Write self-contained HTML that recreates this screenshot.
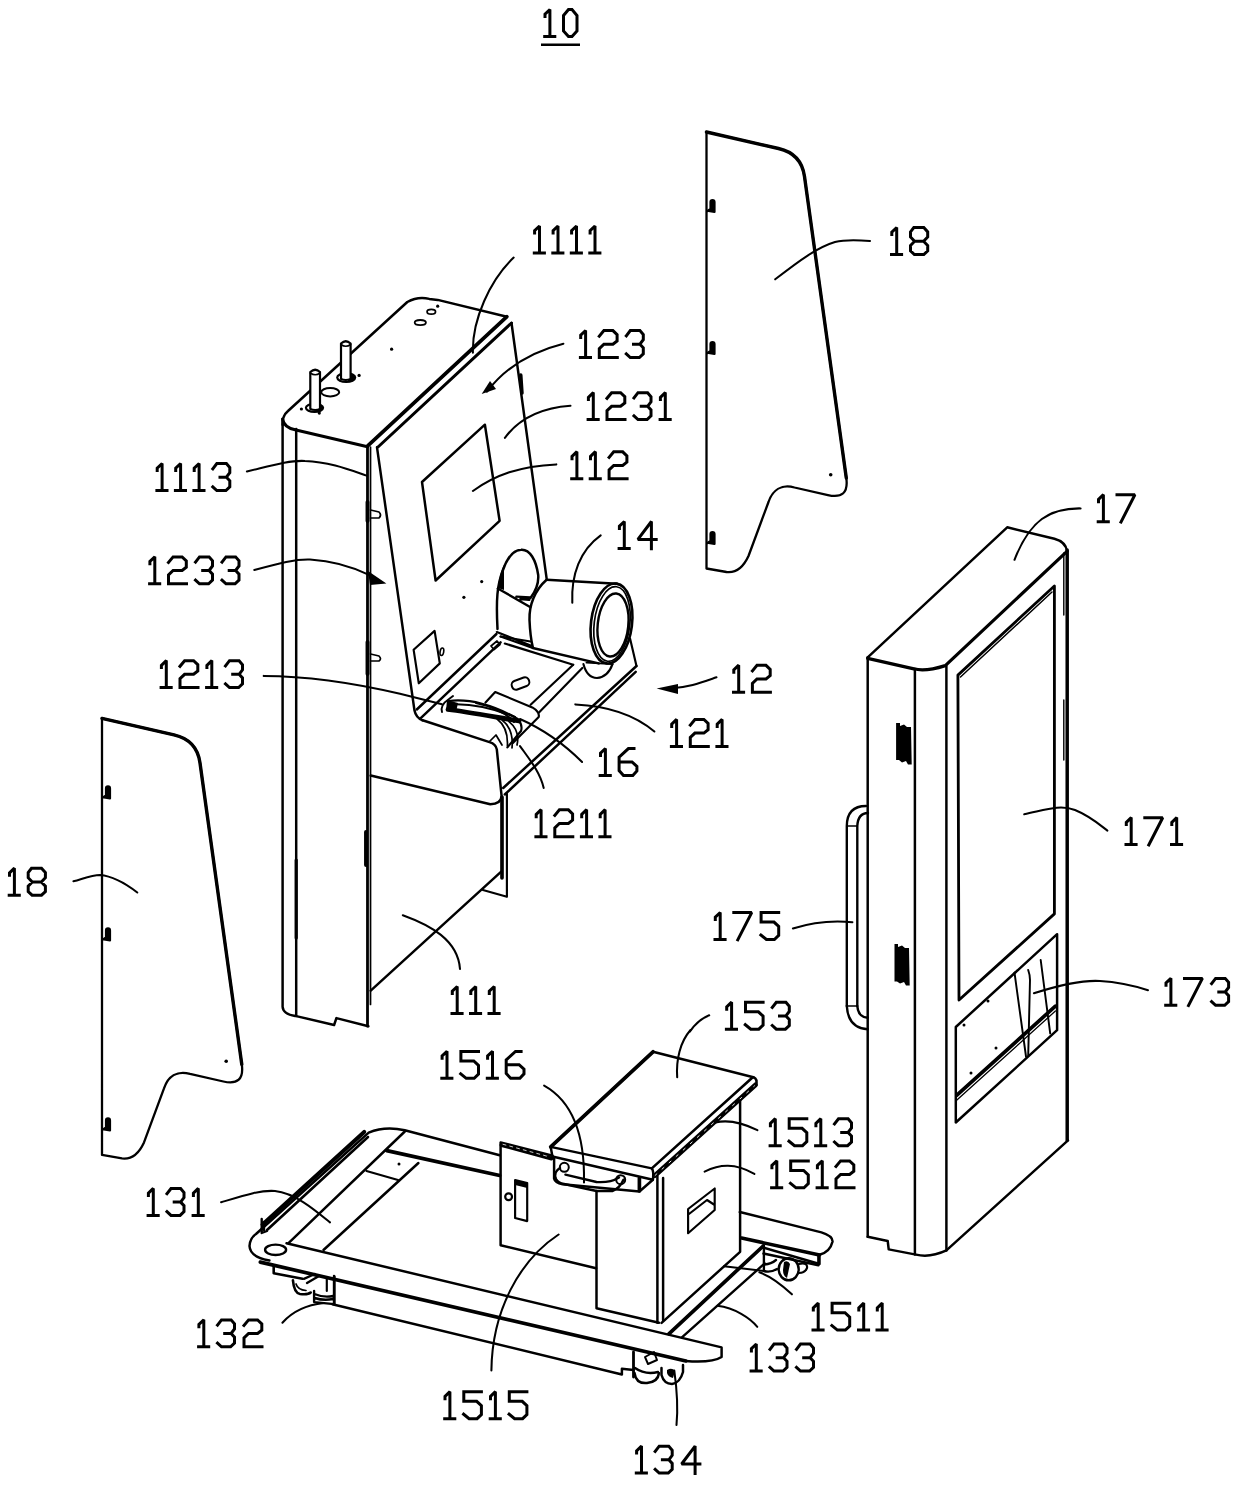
<!DOCTYPE html>
<html><head><meta charset="utf-8"><style>
html,body{margin:0;padding:0;background:#fff;}
svg{display:block;}
</style></head><body>
<svg width="1240" height="1485" viewBox="0 0 1240 1485">
<rect width="1240" height="1485" fill="#fff"/>
<g fill="none" stroke="#000" stroke-linecap="round" stroke-linejoin="round">
<g transform="translate(102,718.4)"><path d="M0,0 L72,16.5 Q94.9,21.7 98,44.5 L139.8,346 Q142.85,367.9 121.4,363.1 L88,355.5 C75,352 66,358 62,370 L42,424 C36,437 28,441 20,440 L0,436.5 Z" stroke-width="2.3"/><path d="M0,0 L72,16.5 Q94.9,21.7 98,44.5 L139.8,346" stroke-width="3.4"/><path d="M1,79 L4,77 V70 Q4,68 6,68 Q8,68 8,70 V80 L2,79" stroke-width="2.2" fill="#000"/><path d="M1,221 L4,219 V212 Q4,210 6,210 Q8,210 8,212 V222 L2,221" stroke-width="2.2" fill="#000"/><path d="M1,411 L4,409 V402 Q4,400 6,400 Q8,400 8,402 V412 L2,411" stroke-width="2.2" fill="#000"/><circle cx="124.2" cy="342.8" r="1.8" fill="#000" stroke="none"/></g>
<g transform="translate(706.5,132)"><path d="M0,0 L72,16.5 Q94.9,21.7 98,44.5 L139.8,346 Q142.85,367.9 121.4,363.1 L88,355.5 C75,352 66,358 62,370 L42,424 C36,437 28,441 20,440 L0,436.5 Z" stroke-width="2.3"/><path d="M0,0 L72,16.5 Q94.9,21.7 98,44.5 L139.8,346" stroke-width="3.4"/><path d="M1,79 L4,77 V70 Q4,68 6,68 Q8,68 8,70 V80 L2,79" stroke-width="2.2" fill="#000"/><path d="M1,221 L4,219 V212 Q4,210 6,210 Q8,210 8,212 V222 L2,221" stroke-width="2.2" fill="#000"/><path d="M1,411 L4,409 V402 Q4,400 6,400 Q8,400 8,402 V412 L2,411" stroke-width="2.2" fill="#000"/><circle cx="124.2" cy="342.8" r="1.8" fill="#000" stroke="none"/></g>
<path d="M282.6,425 Q282,416 288,411 L407.3,302 Q418,296 429.3,298.9 L437.7,299.9 L506.9,316.7" stroke-width="2.48" />
<path d="M282.6,419 Q284,428 296,430 L367.5,446.7" stroke-width="3.02" />
<path d="M367.7,445.8 L506.9,316.7" stroke-width="3.67" />
<path d="M378,447 L511.5,323" stroke-width="3.02" />
<path d="M282.6,419 V1006.7 Q283,1014 295.2,1015.9" stroke-width="2.48" />
<path d="M296.2,429 V1015.9" stroke-width="2.48" />
<path d="M367.5,446.7 V1026.2" stroke-width="2.81" />
<path d="M370.5,447 V1004.4" stroke-width="1.73" />
<path d="M295.2,1015.9 L334.1,1025 L336.4,1018.1 L368.4,1026.2" stroke-width="2.48" />
<path d="M367.5,502 V521 M367.5,642 V674 M366,832 V865" stroke-width="3.89" />
<path d="M296.2,860 V938" stroke-width="3.24" />
<path d="M370.6,510 L379,512 Q382,515 379,518 L370.6,518" stroke-width="1.73" />
<path d="M370.6,654 L379,656 Q382,659 379,661 L370.6,661" stroke-width="1.73" />
<path d="M377,447.3 L414.5,710.6 Q416,718 422.6,720.3" stroke-width="2.48" />
<path d="M511.5,323 L546.6,578.3" stroke-width="2.48" />
<path d="M520.8,375 L522,393" stroke-width="3.46" />
<path d="M484.9,424.7 L422,482 L435.6,580.5 L499.6,520.8 Z" stroke-width="2.48" />
<path d="M413.6,649.7 L434.6,630.9 L439.8,663.4 L418.8,683.3 Z" stroke-width="2.16" />
<ellipse cx="441.9" cy="651.8" rx="1.8" ry="3.8" stroke-width="1.6" transform="rotate(10 441.9 651.8)"/>
<circle cx="463.9" cy="597.3" r="1.6" fill="#000" stroke="none"/>
<circle cx="481.7" cy="581.6" r="1.6" fill="#000" stroke="none"/>
<circle cx="391.6" cy="349.2" r="1.6" fill="#000" stroke="none"/>
<circle cx="437.7" cy="306.2" r="1.6" fill="#000" stroke="none"/>
<circle cx="359.1" cy="375.4" r="1.6" fill="#000" stroke="none"/>
<circle cx="301.4" cy="409" r="1.6" fill="#000" stroke="none"/>
<circle cx="319.3" cy="413.1" r="1.6" fill="#000" stroke="none"/>
<ellipse cx="330.2" cy="392.2" rx="9" ry="4.2" stroke-width="2"/>
<ellipse cx="420.3" cy="322.6" rx="5.6" ry="2.6" stroke-width="1.8"/>
<ellipse cx="431.3" cy="311.7" rx="4.2" ry="2.4" stroke-width="1.8"/>
<ellipse cx="314.5" cy="407.8" rx="8.6" ry="4" stroke-width="2.2"/>
<path d="M316,404 Q323,404.5 323,408 Q322.5,411 316,411.8 Z" fill="#000" stroke="none"/>
<path d="M310.3,409 V372 Q315.2,367.5 320,372 V409 Q315.2,411 310.3,409 Z" fill="#fff" stroke-width="2.2"/>
<path d="M310.3,373 Q315.2,376.5 320,373" stroke-width="1.62" />
<ellipse cx="346.2" cy="377.6" rx="9" ry="4.4" stroke-width="2.2"/>
<path d="M348,373.5 Q355,374 355.2,377.6 Q354.5,381 348,382 Z" fill="#000" stroke="none"/>
<path d="M341,379 V343.5 Q345.8,339 350.6,343.5 V379 Q345.8,381 341,379 Z" fill="#fff" stroke-width="2.2"/>
<path d="M341,344.5 Q345.8,348 350.6,344.5" stroke-width="1.62" />
<path d="M416.8,709.5 L496.4,634 M421,717.9 L500.6,642.4" stroke-width="2.48" />
<path d="M422.6,720.3 L489.5,742.1 Q496,744 496.8,749.4 L501.6,796.1 Q501,804 490.3,804.2 L370.7,775.5" stroke-width="2.48" />
<path d="M370.7,990.7 L501.2,871.7" stroke-width="2.48" />
<path d="M506.9,793.8 V896.8 L482.9,890" stroke-width="2.16" />
<path d="M502,797 V878" stroke-width="3.67" />
<path d="M503.2,788 L636.5,666 M504.8,794.5 L635.7,671.8" stroke-width="2.48" />
<path d="M630.1,638.7 L636.5,666" stroke-width="2.16" />
<path d="M573.2,664.8 L530.6,704.8 M582.3,668 L539,712.6" stroke-width="2.16" />
<path d="M504.8,643.5 L573.2,664.8" stroke-width="2.16" />
<path d="M500.6,636.5 L530.6,641.5" stroke-width="2.16" />
<path d="M586.5,662.6 L612.5,664.1" stroke-width="1.94" />
<rect x="511.5" y="679" width="18" height="9" rx="4" stroke-width="2" transform="rotate(-20 520.5 683.5)"/>
<path d="M491,646 L497,641 L500,644.5 L494,649.5 Z" stroke-width="1.73" />
<path d="M497.5,629 C496,600 497,585 503,570 C508,556 515,550 521,549.7 C530,549 536,560 538.2,575 C539,585 535,592 530.5,598" stroke-width="2.48" />
<path d="M498,588 C499,578 501,570 504,565 V590 Z" fill="#000" stroke="none"/>
<path d="M497.8,588.5 L530.1,607 M516.4,596.6 L530.1,597.4 M520.4,599 L529.3,599.8" stroke-width="2.38" />
<path d="M496.8,632 L531.3,645.7 M500.6,636.5 L532.8,648" stroke-width="2.16" />
<path d="M546.6,579.8 L617.1,583.7" stroke-width="2.48" />
<path d="M546.6,579.8 C535,590 529,605 529.5,620 C530,632 531,640 532.8,647.3" stroke-width="2.48" />
<path d="M532.8,648 L598.7,663.4" stroke-width="2.48" />
<ellipse cx="611.5" cy="623.5" rx="20.5" ry="40.2" stroke-width="2.6" transform="rotate(7 611.5 623.5)"/>
<ellipse cx="612" cy="624" rx="17.8" ry="37.5" stroke-width="1.7" transform="rotate(7 612 624)"/>
<ellipse cx="613" cy="625" rx="15.3" ry="31.7" stroke-width="2.4" transform="rotate(6 613 625)"/>
<path d="M583.4,664.1 Q587,678 597,678 Q608,677 612.5,664.1" stroke-width="2.16" />
<path d="M495.2,692.1 L485.5,702.6 M495.2,692.1 L532.3,707.4 Q540,712 538.7,717.1 L512.9,742.9" stroke-width="2.16" />
<path d="M448.7,701 C468.7,698.4 494.5,704.8 517.7,719 Q523,725 521,731 L507.4,747.4" stroke-width="2.16" />
<path d="M448,709.5 C468.7,712 494.5,717 519,721" stroke-width="4.75" />
<path d="M449,704.5 C470,703 495,709 515,717" stroke-width="2.16" />
<path d="M447,700 L458,703 L456,712 L446,711 Z" fill="#000" stroke="none"/>
<path d="M476,703 C490,706 505,712 514,722" stroke-width="2.16" />
<path d="M497.1,719 C505,725 508,735 507.4,746 M502.3,720.3 C512,728 513,738 512,748 M509,721.6 C517,728 519,736 517,745" stroke-width="1.73" />
<path d="M442,712 Q440,705 449,699 L453,696" stroke-width="1.94" />
<path d="M489,742 L496,735 L502,745" stroke-width="1.73" />
<path d="M867.7,657.3 L1007.2,527.3 L1054.4,538.8 Q1066,542 1067,551.4" stroke-width="2.48" />
<path d="M867.7,658.3 L913.9,668.8 Q925,672 945.3,665.6 L1067,551.4" stroke-width="3.24" />
<path d="M867.7,657.3 V1236.8" stroke-width="2.48" />
<path d="M914.9,669 V1254.6" stroke-width="2.48" />
<path d="M946.4,666 V1250.4" stroke-width="2.48" />
<path d="M1067.2,550 V1140.3" stroke-width="3.46" />
<path d="M1063.8,553 V615 M1063.8,700 V760" stroke-width="1.40" />
<path d="M867.7,1236.8 L887.7,1241 L888.7,1249.4 L916,1254.6 Q930,1258 946.4,1250.4 L1068,1140.3" stroke-width="2.48" />
<path d="M957.9,675.1 L1054.4,586 V913.9 L959,1000 Z" stroke-width="2.81" />
<path d="M960.5,677 L1052,592" stroke-width="1.51" />
<path d="M955.8,1027 L1057.1,934.2 V1030.2 L955.8,1122.5 Z" stroke-width="2.48" />
<path d="M956.9,1095.2 L1055.4,1006.1" stroke-width="3.67" />
<path d="M956.9,1100 L1055.4,1011" stroke-width="1.30" />
<path d="M1014.5,972.6 L1026,1056.5 M1028.2,970 Q1030,975 1030,980 L1028.2,1056 M1040.7,960 L1050.2,1033.4" stroke-width="1.94" />
<circle cx="988" cy="1001" r="1.5" fill="#000" stroke="none"/>
<circle cx="964" cy="1025" r="1.5" fill="#000" stroke="none"/>
<circle cx="996" cy="1048" r="1.5" fill="#000" stroke="none"/>
<circle cx="971" cy="1073" r="1.5" fill="#000" stroke="none"/>
<path d="M896.1,723 H900 V726 L904,724.5 L907,727 H911 L911.7,764.6 H908 L906,761 L902,762.5 L899,760 H896.1 Z" fill="#000" stroke="none"/>
<path d="M894.5,944 H898 V947 L902,945.5 L905,948 H909 L909.7,985.5 H906 L904,982 L900,983.5 L897,981.5 H894.5 Z" fill="#000" stroke="none"/>
<path d="M846.8,1006 V826 Q847,806 866,806" stroke-width="2.38" />
<path d="M857.3,1006 V826 Q858,813 868,813" stroke-width="2.38" />
<path d="M846.8,1006 Q848,1028 867.7,1029.2" stroke-width="2.38" />
<path d="M857.3,1006 Q858,1017 867.7,1017.7" stroke-width="2.38" />
<path d="M846.8,826 H857.3 M846.8,1006 H857.3" stroke-width="1.73" />
<path d="M269.4,1260.5 Q250,1257 249.5,1246 Q250,1238 256,1234 L368.7,1132.6 Q385,1126 404.8,1130.3 L499.7,1155.2" stroke-width="2.48" />
<path d="M286.5,1243.2 L721.6,1347.4 V1357 Q712,1363 685.8,1361" stroke-width="2.48" />
<path d="M260.3,1262.1 L685.8,1361" stroke-width="3.67" />
<path d="M332.4,1304.2 L621.9,1374.5 V1368.7 L633.5,1370" stroke-width="2.48" />
<path d="M334.4,1276.6 V1304.2" stroke-width="2.48" />
<path d="M288.5,1243.2 L404.8,1131.5" stroke-width="2.48" />
<path d="M323.5,1250 L418.4,1163" stroke-width="2.48" />
<path d="M386.8,1150.6 L499.7,1175.5" stroke-width="3.67" />
<path d="M366.5,1171 L398,1180" stroke-width="2.16" />
<circle cx="399" cy="1164" r="1.5" fill="#000" stroke="none"/>
<path d="M262.6,1224.5 L364.2,1132" stroke-width="4.10" />
<path d="M267,1230 L368,1137" stroke-width="2.59" />
<path d="M261.7,1219 V1233 L267,1231 M264,1222 V1230" stroke-width="2.38" />
<ellipse cx="275.6" cy="1249.8" rx="10.5" ry="5.2" stroke-width="2.4"/>
<path d="M273.7,1265.8 V1273.3 L302.5,1278.8" stroke-width="2.59" />
<path d="M292.9,1280.2 Q294,1293 300,1294 Q308,1295 310.7,1292.5" stroke-width="2.59" />
<path d="M296,1284 Q298,1290 306,1290.5" stroke-width="1.73" />
<path d="M303.9,1278.8 L314.8,1274 M307,1283 L319,1276" stroke-width="2.38" />
<path d="M314.1,1291 V1302.1 L334,1304.1 V1276 M314.5,1294 Q324,1298 333,1296 M314.5,1298 Q324,1301 333,1299" stroke-width="2.38" />
<path d="M326.8,1277 V1291" stroke-width="2.16" />
<path d="M739.8,1212 L821.4,1232.4 Q833,1236 832.5,1241.7 Q830,1252 819.5,1254.7 V1264 L762,1247.2" stroke-width="2.48" />
<path d="M741.6,1238 L819.5,1255" stroke-width="3.46" />
<path d="M668.9,1333.8 L763.2,1246" stroke-width="3.67" />
<path d="M681.9,1337.4 L764.7,1263.4" stroke-width="2.38" />
<path d="M724,1266.3 L764.7,1271" stroke-width="1.94" />
<path d="M763.5,1253.5 L818.4,1265.2 V1256" stroke-width="2.48" />
<path d="M763.9,1245.2 V1271 Q770,1273 777,1269 M764.8,1264.5 Q771,1264 776,1260" stroke-width="2.38" />
<ellipse cx="788.7" cy="1269.3" rx="10" ry="11" stroke-width="2.4"/>
<path d="M784,1262 Q788,1260 790,1264 L787,1278 Q783,1276 783,1270 Z" fill="#000" stroke="none"/>
<path d="M799,1264 Q808,1262 807,1268 Q805,1273 799,1273" stroke-width="2.16" />
<path d="M633.5,1352 V1377" stroke-width="2.81" />
<path d="M634.5,1373 Q636,1384 647,1383 Q658,1382 659,1373 M635,1368 Q645,1375 658,1372" stroke-width="2.48" />
<path d="M661.5,1368 V1375 Q664,1384 672,1384 Q680,1383 683,1372 V1365" stroke-width="2.48" />
<path d="M667,1370 Q672,1367 675,1371 L673,1378 Q668,1377 667,1373 Z" fill="#000" stroke="none"/>
<path d="M645,1357 L654,1352 L657,1360 L648,1364 Z" stroke-width="1.94" />
<path d="M550.7,1146.9 L653,1051.8 L753.4,1077.2" stroke-width="2.48" />
<path d="M550.7,1146.9 L653,1051.8" stroke-width="3.67" />
<path d="M651.8,1168.4 L752.5,1077.5" stroke-width="2.59" />
<path d="M655,1175.5 L755.4,1085" stroke-width="4.97" />
<path d="M655,1175.5 L755.4,1085" stroke="#fff" stroke-width="0.9" stroke-dasharray="2.5 7"/>
<path d="M753.4,1077.2 Q758,1079 755.9,1085.8" stroke-width="2.48" />
<path d="M550.7,1146.9 L651.8,1168.4 Q654,1171 652.9,1179.7 L552.4,1156.5 Z" stroke-width="2.48" />
<path d="M554.1,1158.2 V1178.5 Q555,1183 562.6,1184.2 L639.4,1191.5 V1177.4 M639.4,1191.5 L652.9,1179.7" stroke-width="2.48" />
<path d="M639.4,1178 V1191" stroke-width="3.67" />
<path d="M596.5,1191 V1308.2 L659,1322.8" stroke-width="2.48" />
<path d="M657.4,1176 V1322.8 M663.1,1178 V1320.3" stroke-width="2.48" />
<path d="M661.6,1322.9 L740.1,1251.8 V1100.2" stroke-width="2.48" />
<path d="M688.1,1209 L714.7,1188.5 V1210 L688.1,1233.2 Z M689,1214 L707,1200 L714.7,1205" stroke-width="2.16" />
<path d="M560,1168 Q553,1172 556,1179 Q558,1183 564,1184 L596.5,1191 L612.3,1191 Q620,1188 623.5,1179.7" stroke-width="2.48" />
<path d="M565.4,1174.6 L596.5,1182 Q610,1183 619,1177.4" stroke-width="2.38" />
<circle cx="564.3" cy="1167.3" r="4.5" stroke-width="2"/>
<circle cx="620.7" cy="1179.7" r="4.5" stroke-width="2"/>
<path d="M552.6,1155.8 L500.6,1142.5 V1245.3 L596.1,1268.3" stroke-width="2.48" />
<path d="M501.5,1145 L551.5,1158.5" stroke-width="3.89" />
<path d="M503,1144.3 L550,1157" stroke="#fff" stroke-width="0.8" stroke-dasharray="3 4"/>
<path d="M515.1,1180 L527.2,1183 V1221.1 L515.1,1218 Z" stroke-width="2.16" />
<path d="M515.1,1180 L527.2,1183 V1188 L515.1,1185 Z" fill="#000" stroke="none"/>
<circle cx="508.6" cy="1196.7" r="3.4" stroke-width="2.2"/>
<path d="M513.7,257.6 C490,280 472,320 472.9,352.6" stroke-width="2.05" />
<path d="M563.4,343.7 C530,352 505,368 487,391.6" stroke-width="2.05" />
<path d="M481.7,394 L490,381 L496,389 Z" fill="#000" stroke="none"/>
<path d="M570.5,405.8 C540,408 518,420 504.9,437.8" stroke-width="2.05" />
<path d="M556.3,464.4 C520,466 495,475 472.9,491" stroke-width="2.05" />
<path d="M246.9,471.5 C270,466 290,460 305,461 C330,462 350,470 366.5,475.6" stroke-width="2.05" />
<path d="M254.3,570 C280,563 295,559 310,559.5 C335,561 355,568 369.6,575.2" stroke-width="2.05" />
<path d="M386.4,583.6 L368,571 L370,585 Z" fill="#000" stroke="none"/>
<path d="M263.7,675.9 C300,676 350,682 400,693.7 L442,704.2" stroke-width="2.05" />
<path d="M600.7,535.3 C580,550 571,575 572.3,602.8" stroke-width="2.05" />
<path d="M716.5,677.3 C700,683 690,687 670,688.5" stroke-width="2.05" />
<path d="M656.6,688.5 L678,684 L678,694 Z" fill="#000" stroke="none"/>
<path d="M575.3,704.4 C610,706 635,715 654.4,731.5" stroke-width="2.05" />
<path d="M520,719 C545,730 565,745 582.1,762" stroke-width="2.05" />
<path d="M520,746.1 C530,760 540,772 543.7,787.9" stroke-width="2.05" />
<path d="M402.8,915.2 C430,925 458,940 460,969" stroke-width="2.05" />
<path d="M775.2,279.3 C800,260 818,247 835,242 C845,239.5 858,240 870,241" stroke-width="2.05" />
<path d="M73.4,881.3 C85,878 92,875 100,875 C112,876 125,883 137.3,892.5" stroke-width="2.05" />
<path d="M1080.6,508.4 C1050,508 1030,520 1014.5,559.8" stroke-width="2.05" />
<path d="M1024.2,814.2 C1045,810 1060,804 1075,810 C1090,816 1100,825 1107.4,830.6" stroke-width="2.05" />
<path d="M792.9,928.5 C810,923 830,920 852.4,922.2" stroke-width="2.05" />
<path d="M1033.9,993.2 C1060,985 1085,980 1100,981 C1120,982 1135,986 1148,990.3" stroke-width="2.05" />
<path d="M690,1031.4 C695,1024 700,1019 709.2,1015.3" stroke-width="2.05" />
<path d="M677.2,1077.2 C676,1060 680,1042 690.5,1030" stroke-width="2.05" />
<path d="M544.1,1085.6 C570,1100 585,1130 584,1182.4" stroke-width="2.05" />
<path d="M715.3,1122.5 C730,1119 745,1124 757.4,1130.2" stroke-width="2.05" />
<path d="M704.6,1171.6 C720,1164 735,1163 754.4,1173.9" stroke-width="2.05" />
<path d="M221.1,1202.3 C245,1195 260,1190 275,1191 C295,1193 315,1210 330,1222.4" stroke-width="2.05" />
<path d="M759.4,1272.3 C770,1276 782,1285 791.9,1294.3" stroke-width="2.05" />
<path d="M717.4,1305.8 C735,1308 750,1318 757.3,1326.8" stroke-width="2.05" />
<path d="M282.4,1322.7 C292,1312 305,1305 323.7,1303" stroke-width="2.05" />
<path d="M558.6,1234.5 C520,1260 492,1310 491.4,1370.6" stroke-width="2.05" />
<path d="M674.3,1370.6 C677,1390 678,1410 676.5,1425" stroke-width="2.05" />
</g>
<g fill="none" stroke="#000" stroke-width="3" stroke-linecap="square" stroke-linejoin="miter" stroke-miterlimit="1.6">
<path transform="translate(543.5,8.0) scale(1.000)" d="M1.5,8.5 V6.2 L6.4,1.5 V28.5 M1.2,28.5 H11.3"/>
<path transform="translate(562.0,8.0) scale(1.000)" d="M1.5,7.5 L6.5,1.5 H10 L15,7.5 V23 L10,28.5 H6.5 L1.5,23 Z"/>
<path transform="translate(533.1,224.5) scale(1.000)" d="M1.5,8.5 V6.2 L6.4,1.5 V28.5 M1.2,28.5 H11.3"/>
<path transform="translate(551.6,224.5) scale(1.000)" d="M1.5,8.5 V6.2 L6.4,1.5 V28.5 M1.2,28.5 H11.3"/>
<path transform="translate(570.1,224.5) scale(1.000)" d="M1.5,8.5 V6.2 L6.4,1.5 V28.5 M1.2,28.5 H11.3"/>
<path transform="translate(588.6,224.5) scale(1.000)" d="M1.5,8.5 V6.2 L6.4,1.5 V28.5 M1.2,28.5 H11.3"/>
<path transform="translate(579.2,329.0) scale(1.000)" d="M1.5,8.5 V6.2 L6.4,1.5 V28.5 M1.2,28.5 H11.3"/>
<path transform="translate(597.7,329.0) scale(1.000)" d="M1.6,7.2 L6.2,1.6 H15.2 L19.4,5.6 V11.9 L15.2,15.2 H6.2 L1.6,19.6 V28.5 H19.6"/>
<path transform="translate(624.7,329.0) scale(1.000)" d="M1.6,6.8 L5.6,1.6 H15.2 L18.6,5.6 V10.7 L15.2,15.2 M8.8,15.2 H15.2 L18.6,18.8 V24.8 L14.7,28.5 H5.6 L1.6,24.8"/>
<path transform="translate(586.9,391.1) scale(1.000)" d="M1.5,8.5 V6.2 L6.4,1.5 V28.5 M1.2,28.5 H11.3"/>
<path transform="translate(605.4,391.1) scale(1.000)" d="M1.6,7.2 L6.2,1.6 H15.2 L19.4,5.6 V11.9 L15.2,15.2 H6.2 L1.6,19.6 V28.5 H19.6"/>
<path transform="translate(632.4,391.1) scale(1.000)" d="M1.6,6.8 L5.6,1.6 H15.2 L18.6,5.6 V10.7 L15.2,15.2 M8.8,15.2 H15.2 L18.6,18.8 V24.8 L14.7,28.5 H5.6 L1.6,24.8"/>
<path transform="translate(658.9,391.1) scale(1.000)" d="M1.5,8.5 V6.2 L6.4,1.5 V28.5 M1.2,28.5 H11.3"/>
<path transform="translate(570.5,450.2) scale(1.000)" d="M1.5,8.5 V6.2 L6.4,1.5 V28.5 M1.2,28.5 H11.3"/>
<path transform="translate(589.0,450.2) scale(1.000)" d="M1.5,8.5 V6.2 L6.4,1.5 V28.5 M1.2,28.5 H11.3"/>
<path transform="translate(607.5,450.2) scale(1.000)" d="M1.6,7.2 L6.2,1.6 H15.2 L19.4,5.6 V11.9 L15.2,15.2 H6.2 L1.6,19.6 V28.5 H19.6"/>
<path transform="translate(155.7,462.0) scale(1.000)" d="M1.5,8.5 V6.2 L6.4,1.5 V28.5 M1.2,28.5 H11.3"/>
<path transform="translate(174.2,462.0) scale(1.000)" d="M1.5,8.5 V6.2 L6.4,1.5 V28.5 M1.2,28.5 H11.3"/>
<path transform="translate(192.7,462.0) scale(1.000)" d="M1.5,8.5 V6.2 L6.4,1.5 V28.5 M1.2,28.5 H11.3"/>
<path transform="translate(211.2,462.0) scale(1.000)" d="M1.6,6.8 L5.6,1.6 H15.2 L18.6,5.6 V10.7 L15.2,15.2 M8.8,15.2 H15.2 L18.6,18.8 V24.8 L14.7,28.5 H5.6 L1.6,24.8"/>
<path transform="translate(617.9,520.0) scale(1.000)" d="M1.5,8.5 V6.2 L6.4,1.5 V28.5 M1.2,28.5 H11.3"/>
<path transform="translate(636.4,520.0) scale(1.000)" d="M15,28.8 V1.5 L1.5,19.4 H19.8"/>
<path transform="translate(148.4,555.3) scale(1.000)" d="M1.5,8.5 V6.2 L6.4,1.5 V28.5 M1.2,28.5 H11.3"/>
<path transform="translate(166.9,555.3) scale(1.000)" d="M1.6,7.2 L6.2,1.6 H15.2 L19.4,5.6 V11.9 L15.2,15.2 H6.2 L1.6,19.6 V28.5 H19.6"/>
<path transform="translate(193.9,555.3) scale(1.000)" d="M1.6,6.8 L5.6,1.6 H15.2 L18.6,5.6 V10.7 L15.2,15.2 M8.8,15.2 H15.2 L18.6,18.8 V24.8 L14.7,28.5 H5.6 L1.6,24.8"/>
<path transform="translate(220.4,555.3) scale(1.000)" d="M1.6,6.8 L5.6,1.6 H15.2 L18.6,5.6 V10.7 L15.2,15.2 M8.8,15.2 H15.2 L18.6,18.8 V24.8 L14.7,28.5 H5.6 L1.6,24.8"/>
<path transform="translate(159.9,659.1) scale(1.000)" d="M1.5,8.5 V6.2 L6.4,1.5 V28.5 M1.2,28.5 H11.3"/>
<path transform="translate(178.4,659.1) scale(1.000)" d="M1.6,7.2 L6.2,1.6 H15.2 L19.4,5.6 V11.9 L15.2,15.2 H6.2 L1.6,19.6 V28.5 H19.6"/>
<path transform="translate(205.4,659.1) scale(1.000)" d="M1.5,8.5 V6.2 L6.4,1.5 V28.5 M1.2,28.5 H11.3"/>
<path transform="translate(223.9,659.1) scale(1.000)" d="M1.6,6.8 L5.6,1.6 H15.2 L18.6,5.6 V10.7 L15.2,15.2 M8.8,15.2 H15.2 L18.6,18.8 V24.8 L14.7,28.5 H5.6 L1.6,24.8"/>
<path transform="translate(732.3,663.7) scale(1.000)" d="M1.5,8.5 V6.2 L6.4,1.5 V28.5 M1.2,28.5 H11.3"/>
<path transform="translate(750.8,663.7) scale(1.000)" d="M1.6,7.2 L6.2,1.6 H15.2 L19.4,5.6 V11.9 L15.2,15.2 H6.2 L1.6,19.6 V28.5 H19.6"/>
<path transform="translate(670.2,717.9) scale(1.000)" d="M1.5,8.5 V6.2 L6.4,1.5 V28.5 M1.2,28.5 H11.3"/>
<path transform="translate(688.7,717.9) scale(1.000)" d="M1.6,7.2 L6.2,1.6 H15.2 L19.4,5.6 V11.9 L15.2,15.2 H6.2 L1.6,19.6 V28.5 H19.6"/>
<path transform="translate(715.7,717.9) scale(1.000)" d="M1.5,8.5 V6.2 L6.4,1.5 V28.5 M1.2,28.5 H11.3"/>
<path transform="translate(599.0,747.0) scale(1.000)" d="M1.5,8.5 V6.2 L6.4,1.5 V28.5 M1.2,28.5 H11.3"/>
<path transform="translate(617.5,747.0) scale(1.000)" d="M16.5,1.6 H10.9 L1.6,10.1 V23.6 L6,28.4 H15.3 L19.4,24 V19.4 L14.5,14.9 H1.6"/>
<path transform="translate(534.7,808.2) scale(1.000)" d="M1.5,8.5 V6.2 L6.4,1.5 V28.5 M1.2,28.5 H11.3"/>
<path transform="translate(553.2,808.2) scale(1.000)" d="M1.6,7.2 L6.2,1.6 H15.2 L19.4,5.6 V11.9 L15.2,15.2 H6.2 L1.6,19.6 V28.5 H19.6"/>
<path transform="translate(580.2,808.2) scale(1.000)" d="M1.5,8.5 V6.2 L6.4,1.5 V28.5 M1.2,28.5 H11.3"/>
<path transform="translate(598.7,808.2) scale(1.000)" d="M1.5,8.5 V6.2 L6.4,1.5 V28.5 M1.2,28.5 H11.3"/>
<path transform="translate(450.8,985.0) scale(1.000)" d="M1.5,8.5 V6.2 L6.4,1.5 V28.5 M1.2,28.5 H11.3"/>
<path transform="translate(469.3,985.0) scale(1.000)" d="M1.5,8.5 V6.2 L6.4,1.5 V28.5 M1.2,28.5 H11.3"/>
<path transform="translate(487.8,985.0) scale(1.000)" d="M1.5,8.5 V6.2 L6.4,1.5 V28.5 M1.2,28.5 H11.3"/>
<path transform="translate(890.3,226.0) scale(1.000)" d="M1.5,8.5 V6.2 L6.4,1.5 V28.5 M1.2,28.5 H11.3"/>
<path transform="translate(908.8,226.0) scale(1.000)" d="M5,1.6 H15 L18.9,5.9 V11 L14.8,15.3 H5.8 L1.7,11 V5.9 Z M5.8,15.3 L1.7,19.5 V24.9 L5.6,28.5 H15 L18.9,24.9 V19.5 L14.8,15.3"/>
<path transform="translate(1097.0,493.2) scale(1.000)" d="M1.5,8.5 V6.2 L6.4,1.5 V28.5 M1.2,28.5 H11.3"/>
<path transform="translate(1115.5,493.2) scale(1.000)" d="M1.5,1.6 H19.4 L5.5,28.8"/>
<path transform="translate(1124.8,816.1) scale(1.000)" d="M1.5,8.5 V6.2 L6.4,1.5 V28.5 M1.2,28.5 H11.3"/>
<path transform="translate(1143.3,816.1) scale(1.000)" d="M1.5,1.6 H19.4 L5.5,28.8"/>
<path transform="translate(1170.3,816.1) scale(1.000)" d="M1.5,8.5 V6.2 L6.4,1.5 V28.5 M1.2,28.5 H11.3"/>
<path transform="translate(713.8,911.0) scale(1.000)" d="M1.5,8.5 V6.2 L6.4,1.5 V28.5 M1.2,28.5 H11.3"/>
<path transform="translate(732.3,911.0) scale(1.000)" d="M1.5,1.6 H19.4 L5.5,28.8"/>
<path transform="translate(759.3,911.0) scale(1.000)" d="M19.4,1.6 H1.8 V11.1 H14.7 L19.4,15.5 V24.4 L15.1,28.5 H7.1 L1.6,24"/>
<path transform="translate(1164.5,976.8) scale(1.000)" d="M1.5,8.5 V6.2 L6.4,1.5 V28.5 M1.2,28.5 H11.3"/>
<path transform="translate(1183.0,976.8) scale(1.000)" d="M1.5,1.6 H19.4 L5.5,28.8"/>
<path transform="translate(1210.0,976.8) scale(1.000)" d="M1.6,6.8 L5.6,1.6 H15.2 L18.6,5.6 V10.7 L15.2,15.2 M8.8,15.2 H15.2 L18.6,18.8 V24.8 L14.7,28.5 H5.6 L1.6,24.8"/>
<path transform="translate(8.0,866.7) scale(1.000)" d="M1.5,8.5 V6.2 L6.4,1.5 V28.5 M1.2,28.5 H11.3"/>
<path transform="translate(26.5,866.7) scale(1.000)" d="M5,1.6 H15 L18.9,5.9 V11 L14.8,15.3 H5.8 L1.7,11 V5.9 Z M5.8,15.3 L1.7,19.5 V24.9 L5.6,28.5 H15 L18.9,24.9 V19.5 L14.8,15.3"/>
<path transform="translate(725.2,1000.7) scale(1.000)" d="M1.5,8.5 V6.2 L6.4,1.5 V28.5 M1.2,28.5 H11.3"/>
<path transform="translate(743.7,1000.7) scale(1.000)" d="M19.4,1.6 H1.8 V11.1 H14.7 L19.4,15.5 V24.4 L15.1,28.5 H7.1 L1.6,24"/>
<path transform="translate(770.7,1000.7) scale(1.000)" d="M1.6,6.8 L5.6,1.6 H15.2 L18.6,5.6 V10.7 L15.2,15.2 M8.8,15.2 H15.2 L18.6,18.8 V24.8 L14.7,28.5 H5.6 L1.6,24.8"/>
<path transform="translate(440.6,1049.8) scale(1.000)" d="M1.5,8.5 V6.2 L6.4,1.5 V28.5 M1.2,28.5 H11.3"/>
<path transform="translate(459.1,1049.8) scale(1.000)" d="M19.4,1.6 H1.8 V11.1 H14.7 L19.4,15.5 V24.4 L15.1,28.5 H7.1 L1.6,24"/>
<path transform="translate(486.1,1049.8) scale(1.000)" d="M1.5,8.5 V6.2 L6.4,1.5 V28.5 M1.2,28.5 H11.3"/>
<path transform="translate(504.6,1049.8) scale(1.000)" d="M16.5,1.6 H10.9 L1.6,10.1 V23.6 L6,28.4 H15.3 L19.4,24 V19.4 L14.5,14.9 H1.6"/>
<path transform="translate(768.9,1117.2) scale(1.000)" d="M1.5,8.5 V6.2 L6.4,1.5 V28.5 M1.2,28.5 H11.3"/>
<path transform="translate(787.4,1117.2) scale(1.000)" d="M19.4,1.6 H1.8 V11.1 H14.7 L19.4,15.5 V24.4 L15.1,28.5 H7.1 L1.6,24"/>
<path transform="translate(814.4,1117.2) scale(1.000)" d="M1.5,8.5 V6.2 L6.4,1.5 V28.5 M1.2,28.5 H11.3"/>
<path transform="translate(832.9,1117.2) scale(1.000)" d="M1.6,6.8 L5.6,1.6 H15.2 L18.6,5.6 V10.7 L15.2,15.2 M8.8,15.2 H15.2 L18.6,18.8 V24.8 L14.7,28.5 H5.6 L1.6,24.8"/>
<path transform="translate(770.4,1159.3) scale(1.000)" d="M1.5,8.5 V6.2 L6.4,1.5 V28.5 M1.2,28.5 H11.3"/>
<path transform="translate(788.9,1159.3) scale(1.000)" d="M19.4,1.6 H1.8 V11.1 H14.7 L19.4,15.5 V24.4 L15.1,28.5 H7.1 L1.6,24"/>
<path transform="translate(815.9,1159.3) scale(1.000)" d="M1.5,8.5 V6.2 L6.4,1.5 V28.5 M1.2,28.5 H11.3"/>
<path transform="translate(834.4,1159.3) scale(1.000)" d="M1.6,7.2 L6.2,1.6 H15.2 L19.4,5.6 V11.9 L15.2,15.2 H6.2 L1.6,19.6 V28.5 H19.6"/>
<path transform="translate(146.9,1186.9) scale(1.000)" d="M1.5,8.5 V6.2 L6.4,1.5 V28.5 M1.2,28.5 H11.3"/>
<path transform="translate(165.4,1186.9) scale(1.000)" d="M1.6,6.8 L5.6,1.6 H15.2 L18.6,5.6 V10.7 L15.2,15.2 M8.8,15.2 H15.2 L18.6,18.8 V24.8 L14.7,28.5 H5.6 L1.6,24.8"/>
<path transform="translate(191.9,1186.9) scale(1.000)" d="M1.5,8.5 V6.2 L6.4,1.5 V28.5 M1.2,28.5 H11.3"/>
<path transform="translate(811.8,1301.6) scale(1.000)" d="M1.5,8.5 V6.2 L6.4,1.5 V28.5 M1.2,28.5 H11.3"/>
<path transform="translate(830.3,1301.6) scale(1.000)" d="M19.4,1.6 H1.8 V11.1 H14.7 L19.4,15.5 V24.4 L15.1,28.5 H7.1 L1.6,24"/>
<path transform="translate(857.3,1301.6) scale(1.000)" d="M1.5,8.5 V6.2 L6.4,1.5 V28.5 M1.2,28.5 H11.3"/>
<path transform="translate(875.8,1301.6) scale(1.000)" d="M1.5,8.5 V6.2 L6.4,1.5 V28.5 M1.2,28.5 H11.3"/>
<path transform="translate(197.4,1318.3) scale(1.000)" d="M1.5,8.5 V6.2 L6.4,1.5 V28.5 M1.2,28.5 H11.3"/>
<path transform="translate(215.9,1318.3) scale(1.000)" d="M1.6,6.8 L5.6,1.6 H15.2 L18.6,5.6 V10.7 L15.2,15.2 M8.8,15.2 H15.2 L18.6,18.8 V24.8 L14.7,28.5 H5.6 L1.6,24.8"/>
<path transform="translate(242.4,1318.3) scale(1.000)" d="M1.6,7.2 L6.2,1.6 H15.2 L19.4,5.6 V11.9 L15.2,15.2 H6.2 L1.6,19.6 V28.5 H19.6"/>
<path transform="translate(749.9,1342.5) scale(1.000)" d="M1.5,8.5 V6.2 L6.4,1.5 V28.5 M1.2,28.5 H11.3"/>
<path transform="translate(768.4,1342.5) scale(1.000)" d="M1.6,6.8 L5.6,1.6 H15.2 L18.6,5.6 V10.7 L15.2,15.2 M8.8,15.2 H15.2 L18.6,18.8 V24.8 L14.7,28.5 H5.6 L1.6,24.8"/>
<path transform="translate(794.9,1342.5) scale(1.000)" d="M1.6,6.8 L5.6,1.6 H15.2 L18.6,5.6 V10.7 L15.2,15.2 M8.8,15.2 H15.2 L18.6,18.8 V24.8 L14.7,28.5 H5.6 L1.6,24.8"/>
<path transform="translate(443.5,1390.2) scale(1.000)" d="M1.5,8.5 V6.2 L6.4,1.5 V28.5 M1.2,28.5 H11.3"/>
<path transform="translate(462.0,1390.2) scale(1.000)" d="M19.4,1.6 H1.8 V11.1 H14.7 L19.4,15.5 V24.4 L15.1,28.5 H7.1 L1.6,24"/>
<path transform="translate(489.0,1390.2) scale(1.000)" d="M1.5,8.5 V6.2 L6.4,1.5 V28.5 M1.2,28.5 H11.3"/>
<path transform="translate(507.5,1390.2) scale(1.000)" d="M19.4,1.6 H1.8 V11.1 H14.7 L19.4,15.5 V24.4 L15.1,28.5 H7.1 L1.6,24"/>
<path transform="translate(635.1,1444.6) scale(1.000)" d="M1.5,8.5 V6.2 L6.4,1.5 V28.5 M1.2,28.5 H11.3"/>
<path transform="translate(653.6,1444.6) scale(1.000)" d="M1.6,6.8 L5.6,1.6 H15.2 L18.6,5.6 V10.7 L15.2,15.2 M8.8,15.2 H15.2 L18.6,18.8 V24.8 L14.7,28.5 H5.6 L1.6,24.8"/>
<path transform="translate(680.1,1444.6) scale(1.000)" d="M15,28.8 V1.5 L1.5,19.4 H19.8"/>
</g>
<path d="M541,44.8 H580" stroke="#000" stroke-width="2.6"/>
</svg>
</body></html>
